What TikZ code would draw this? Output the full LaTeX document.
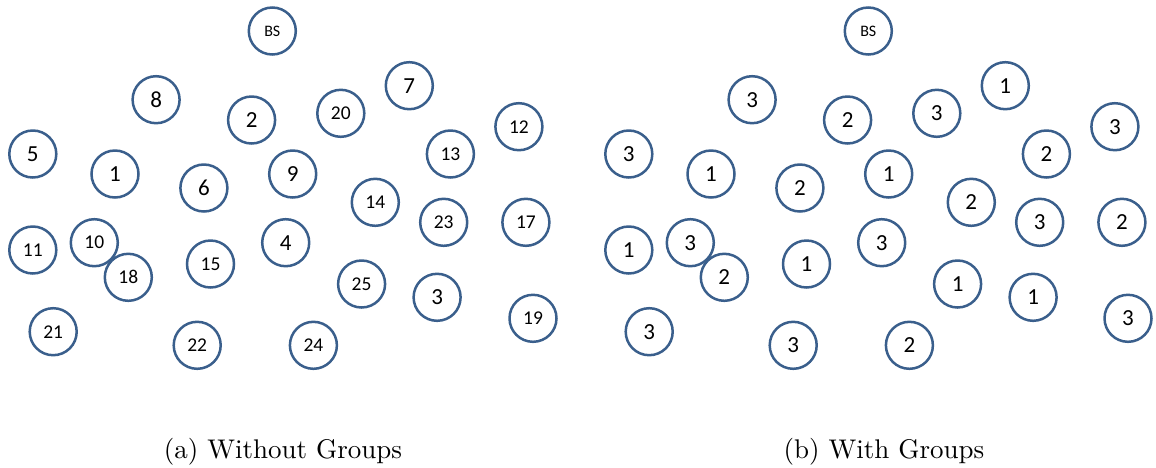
\documentclass[tikz,border=0pt]{standalone}
\usepackage{fontspec}
\newfontfamily\nodefont{Carlito}
\newfontfamily\capfont{lmroman10-regular.otf}
\definecolor{sensorblue}{RGB}{58,95,140}
\tikzset{
  sensor/.style={circle, draw=sensorblue, line width=2.5pt, fill=white,
    minimum size=47pt, inner sep=0pt,
    font=\nodefont\fontsize{23}{23}\selectfont},
  small/.style={font=\nodefont\fontsize{19.5}{19.5}\selectfont},
  tiny/.style={font=\nodefont\fontsize{16}{16}\selectfont},
  caption/.style={anchor=base, font=\capfont\fontsize{27}{30}\selectfont}
}
\begin{document}
\begin{tikzpicture}[x=1pt,y=-1pt]
\useasboundingbox (0,0) rectangle (1156,467);

% (a) network with node identifiers
\node[sensor,tiny]  (aBS) at (272.3,31)    {BS};
\node[sensor]       (a8)  at (156.1,99.7)  {8};
\node[sensor]       (a2)  at (251.6,120)   {2};
\node[sensor,small] (a20) at (340.8,113.3) {20};
\node[sensor]       (a7)  at (409.3,85.7)  {7};
\node[sensor,small] (a12) at (518.9,126.7) {12};
\node[sensor]       (a5)  at (32.8,154)    {5};
\node[sensor,small] (a13) at (450.4,154)   {13};
\node[sensor]       (a1)  at (115,174)     {1};
\node[sensor]       (a9)  at (292.7,174)   {9};
\node[sensor]       (a6)  at (203.9,188)   {6};
\node[sensor,small] (a14) at (375.3,202.3) {14};
\node[sensor,small] (a11) at (32.8,250)    {11};
\node[sensor,small] (a10) at (94.3,242.7)  {10};
\node[sensor,small] (a18) at (128.3,277.3) {18};
\node[sensor,small] (a15) at (210.5,264)   {15};
\node[sensor]       (a4)  at (285.7,242.7) {4};
\node[sensor,small] (a23) at (443.7,222.3) {23};
\node[sensor,small] (a17) at (525.9,222.3) {17};
\node[sensor,small] (a25) at (361.6,284)   {25};
\node[sensor]       (a3)  at (437.1,297.3) {3};
\node[sensor,small] (a19) at (533,318.3)   {19};
\node[sensor,small] (a21) at (53.2,331.7)  {21};
\node[sensor,small] (a22) at (197.2,345.3) {22};
\node[sensor,small] (a24) at (313.4,345.3) {24};

% (b) the same network labelled by group
\begin{scope}[xshift=596pt]
\node[sensor,tiny] (bBS) at (272.3,31)    {BS};
\node[sensor]      (b8)  at (156.1,99.7)  {3};
\node[sensor]      (b2)  at (251.6,120)   {2};
\node[sensor]      (b20) at (340.8,113.3) {3};
\node[sensor]      (b7)  at (409.3,85.7)  {1};
\node[sensor]      (b12) at (518.9,126.7) {3};
\node[sensor]      (b5)  at (32.8,154)    {3};
\node[sensor]      (b13) at (450.4,154)   {2};
\node[sensor]      (b1)  at (115,174)     {1};
\node[sensor]      (b9)  at (292.7,174)   {1};
\node[sensor]      (b6)  at (203.9,188)   {2};
\node[sensor]      (b14) at (375.3,202.3) {2};
\node[sensor]      (b11) at (32.8,250)    {1};
\node[sensor]      (b10) at (94.3,242.7)  {3};
\node[sensor]      (b18) at (128.3,277.3) {2};
\node[sensor]      (b15) at (210.5,264)   {1};
\node[sensor]      (b4)  at (285.7,242.7) {3};
\node[sensor]      (b23) at (443.7,222.3) {3};
\node[sensor]      (b17) at (525.9,222.3) {2};
\node[sensor]      (b25) at (361.6,284)   {1};
\node[sensor]      (b3)  at (437.1,297.3) {1};
\node[sensor]      (b19) at (532,318.3)   {3};
\node[sensor]      (b21) at (53.2,331.7)  {3};
\node[sensor]      (b22) at (197.2,345.3) {3};
\node[sensor]      (b24) at (313.4,345.3) {2};
\end{scope}

% sub-figure captions
\node[caption] (capa) at (283,458) {(a) Without Groups};
\node[caption] (capb) at (884,458) {(b) With Groups};
\end{tikzpicture}
\end{document}
